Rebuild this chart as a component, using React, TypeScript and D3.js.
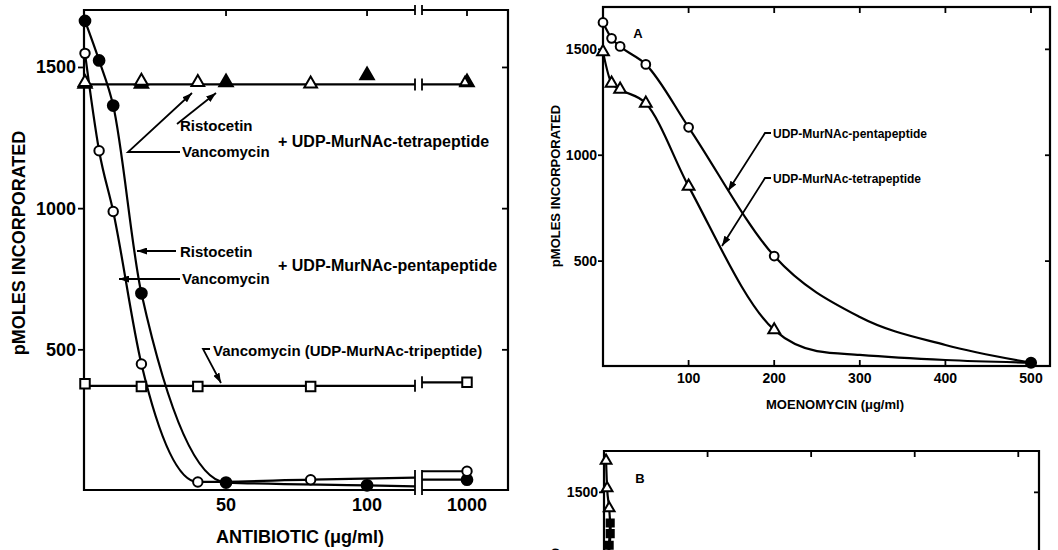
import * as d3 from 'd3';
import React, { useEffect, useRef } from 'react';

// left panel: antibiotic (ug/ml) vs pmoles incorporated
const ristoPentaX = [0, 5, 10, 20, 50, 100];
const ristoPentaY = [1665, 1525, 1365, 700, 30, 20];
const vancoPentaX = [0, 5, 10, 20, 40, 80];
const vancoPentaY = [1550, 1205, 990, 450, 32, 40];
const ristoPentaHigh = [40];
const vancoPentaHigh = [70];

const vancoTetraX = [0, 20, 40, 80];
const vancoTetraY = [1440, 1445, 1440, 1435];
const ristoTetraX = [0, 20, 50, 100];
const ristoTetraY = [1435, 1435, 1440, 1465];
const tetraHigh = [1440];

const vancoTriX = [0, 20, 40, 80];
const vancoTriY = [380, 370, 370, 370];
const vancoTriHigh = [385];

const highDose = [1000];
const leftYTicks = [500, 1000, 1500];
const leftXTicks = [50, 100];

// panel A: moenomycin
const moenoX = [0, 10, 20, 50, 100, 200, 500];
const pentaA = [1627, 1552, 1514, 1429, 1132, 524, 20];
const tetraA = [1488, 1340, 1311, 1245, 853, 175, 20];
const pentaCurveX = [300, 400];
const pentaCurveY = [236, 104];
const tetraCurveX = [250, 300, 400];
const tetraCurveY = [75, 57, 33];
const aXTicks = [100, 200, 300, 400, 500];
const aYTicks = [500, 1000, 1500];

// panel B (cut off at the bottom of the picture)
const bOpenX = [0.2, 0.3, 0.5];
const bOpenY = [1650, 1520, 1425];
const bFilledX = [0.6, 0.6, 0.5, 0.4];
const bFilledY = [1355, 1305, 1250, 1150];
const bXTicks = [10, 20, 30, 40];
const bYTicks = [1500];

const FONT = 'Liberation Sans, Arial, sans-serif';

const App = () => {
  const ref = useRef<SVGSVGElement>(null);

  useEffect(() => {
    const svg = d3.select(ref.current);
    svg.selectAll('*').remove();

    svg.append('rect').attr('width', 1058).attr('height', 550).attr('fill', '#fff');

    svg.append('defs').append('marker')
      .attr('id', 'arr')
      .attr('markerUnits', 'userSpaceOnUse')
      .attr('markerWidth', 10).attr('markerHeight', 7)
      .attr('refX', 10).attr('refY', 3.5)
      .attr('orient', 'auto')
      .append('path').attr('d', 'M0,0 L10,3.5 L0,7 z').attr('fill', '#000');

    const ink = '#000';
    const lw = 2.2;

    const text = (x: number, y: number, s: string, size: number, anchor = 'start', rot = 0) => {
      const t = svg.append('text')
        .attr('x', x).attr('y', y)
        .attr('font-family', FONT).attr('font-weight', 'bold')
        .attr('font-size', size).attr('text-anchor', anchor)
        .attr('fill', ink).text(s);
      if (rot) t.attr('transform', `rotate(${rot},${x},${y})`);
      return t;
    };
    const seg = (pts: [number, number][], arrow = false) => {
      const p = svg.append('path')
        .attr('d', d3.line()(pts))
        .attr('fill', 'none').attr('stroke', ink).attr('stroke-width', 1.8);
      if (arrow) p.attr('marker-end', 'url(#arr)');
    };
    const sym = (type: d3.SymbolType, size: number, filled: boolean, x: number, y: number) => {
      svg.append('path')
        .attr('d', d3.symbol().type(type).size(size)())
        .attr('transform', `translate(${x},${y})`)
        .attr('fill', filled ? ink : '#fff')
        .attr('stroke', ink).attr('stroke-width', 2);
    };
    const curve = (pts: [number, number][]) => {
      svg.append('path')
        .attr('d', d3.line().curve(d3.curveMonotoneX)(pts))
        .attr('fill', 'none').attr('stroke', ink).attr('stroke-width', lw);
    };

    // ---------------- left panel ----------------
    const L = 84, R = 508, T = 10, B = 490, brkA = 415, brkB = 422;
    const xLo = d3.scaleLinear().domain([0, 117]).range([85, brkA]);
    const xHi = d3.scaleLinear().domain([900, 1100]).range([424, 510]);
    const yL = d3.scaleLinear().domain([0, 1700]).range([491, 11]);

    const frame = svg.append('g').attr('fill', 'none').attr('stroke', ink).attr('stroke-width', lw);
    frame.append('path').attr('d', `M${brkA},${T} H${L} V${B} H${brkA}`);
    frame.append('path').attr('d', `M${brkB},${T} H${R} V${B} H${brkB}`);
    // break bars
    [brkA, brkB].forEach(bx => {
      seg([[bx, T - 5], [bx, T + 5]]);
      seg([[bx, yL(0) - 21], [bx, B + 5]]);
    });

    leftYTicks.forEach(v => {
      seg([[L - 6, yL(v)], [L, yL(v)]]);
      seg([[R - 6, yL(v)], [R, yL(v)]]);
      text(L - 8, yL(v) + 6, String(v), 18, 'end');
    });
    leftXTicks.forEach(v => {
      seg([[xLo(v), T], [xLo(v), T + 6]]);
      text(xLo(v), B + 21, String(v), 18, 'middle');
    });
    highDose.forEach(v => {
      seg([[xHi(v), T], [xHi(v), T + 6]]);
      text(xHi(v), B + 21, String(v), 18, 'middle');
    });
    text(300, 543, 'ANTIBIOTIC (\u03bcg/ml)', 18, 'middle');
    text(25, 243, 'pMOLES INCORPORATED', 18, 'middle', -90);

    // flat lines with break bars
    const flat = (lowY: number[], highY: number[]) => {
      const lv = d3.mean(lowY)!;
      const yv = yL(lv);
      svg.append('path').attr('d', `M${xLo(0)},${yv} H${brkA}`)
        .attr('stroke', ink).attr('stroke-width', lw);
      svg.append('path').attr('d', `M${brkB},${yL(highY[0])} H${xHi(highDose[0])}`)
        .attr('stroke', ink).attr('stroke-width', lw);
      seg([[brkA, yv - 6], [brkA, yv + 6]]);
      seg([[brkB, yL(highY[0]) - 6], [brkB, yL(highY[0]) + 6]]);
    };
    flat(vancoTetraY, tetraHigh);
    flat(vancoTriY, vancoTriHigh);

    // falling curves, extended to the break
    const fall = (xs: number[], ys: number[], high: number[]) => {
      const n = xs.length;
      const slope = (ys[n - 1] - ys[n - 2]) / (xs[n - 1] - xs[n - 2]);
      const endV = ys[n - 1] + slope * (117 - xs[n - 1]);
      const pts: [number, number][] = xs.map((x, i) => [xLo(x), yL(ys[i])]);
      pts.push([brkA, yL(endV)]);
      curve(pts);
      svg.append('path').attr('d', `M${brkB},${yL(high[0])} H${xHi(highDose[0])}`)
        .attr('stroke', ink).attr('stroke-width', lw);
    };
    fall(ristoPentaX, ristoPentaY, ristoPentaHigh);
    fall(vancoPentaX, vancoPentaY, vancoPentaHigh);

    // symbols
    vancoTriX.forEach((x, i) => sym(d3.symbolSquare, 90, false, xLo(x), yL(vancoTriY[i])));
    sym(d3.symbolSquare, 90, false, xHi(highDose[0]), yL(vancoTriHigh[0]));
    ristoTetraX.forEach((x, i) => sym(d3.symbolTriangle, 80, true, xLo(x), yL(ristoTetraY[i]) - 2));
    sym(d3.symbolTriangle, 80, true, xHi(highDose[0]), yL(tetraHigh[0]) - 2);
    vancoTetraX.forEach((x, i) => sym(d3.symbolTriangle, 70, false, xLo(x), yL(vancoTetraY[i]) - 2));
    sym(d3.symbolTriangle, 40, false, xHi(highDose[0]) - 2, yL(tetraHigh[0]) - 2);
    ristoPentaX.forEach((x, i) => sym(d3.symbolCircle, 90, true, xLo(x), yL(ristoPentaY[i])));
    sym(d3.symbolCircle, 90, true, xHi(highDose[0]), yL(ristoPentaHigh[0]));
    vancoPentaX.forEach((x, i) => sym(d3.symbolCircle, 70, false, xLo(x), yL(vancoPentaY[i])));
    sym(d3.symbolCircle, 70, false, xHi(highDose[0]), yL(vancoPentaHigh[0]));

    // annotations
    text(180, 131, 'Ristocetin', 15);
    seg([[177, 124], [216, 93]], true);
    text(182, 157, 'Vancomycin', 15);
    seg([[180, 152], [128, 152], [192, 93]], true);
    text(278, 147, '+ UDP-MurNAc-tetrapeptide', 16);

    text(180, 257, 'Ristocetin', 15);
    seg([[176, 251], [137, 251]], true);
    text(182, 284, 'Vancomycin', 15);
    seg([[180, 279], [119, 279]], true);
    text(278, 271, '+ UDP-MurNAc-pentapeptide', 16);

    text(213, 356, 'Vancomycin (UDP-MurNAc-tripeptide)', 15);
    seg([[210, 349], [203, 349], [221, 383]], true);

    // ---------------- panel A ----------------
    const AL = 603, AR = 1050, AT = 7, AB = 366;
    const xA = d3.scaleLinear().domain([0, 500]).range([603, 1031]);
    const yA = d3.scaleLinear().domain([0, 1700]).range([367, 7]);
    svg.append('rect').attr('x', AL).attr('y', AT).attr('width', AR - AL).attr('height', AB - AT)
      .attr('fill', 'none').attr('stroke', ink).attr('stroke-width', lw);
    aYTicks.forEach(v => {
      seg([[AL - 5, yA(v)], [AL, yA(v)]]);
      seg([[AR - 5, yA(v)], [AR, yA(v)]]);
      text(AL - 6, yA(v) + 5, String(v), 14, 'end');
    });
    aXTicks.forEach(v => {
      seg([[xA(v), AT], [xA(v), AT + 6]]);
      seg([[xA(v), AB], [xA(v), AB - 6]]);
      text(xA(v), AB + 17, String(v), 14, 'middle');
    });
    text(835, 409, 'MOENOMYCIN (\u03bcg/ml)', 13, 'middle');
    text(560, 186, 'pMOLES INCORPORATED', 13, 'middle', -90);
    text(638, 38, 'A', 13, 'middle');

    const merge = (xs: number[], ys: number[], cx: number[], cy: number[]) =>
      xs.map((x, i) => [x, ys[i]] as [number, number])
        .concat(cx.map((x, i) => [x, cy[i]] as [number, number]))
        .sort((a, b) => a[0] - b[0])
        .map(d => [xA(d[0]), yA(d[1])] as [number, number]);
    curve(merge(moenoX, pentaA, pentaCurveX, pentaCurveY));
    curve(merge(moenoX, tetraA, tetraCurveX, tetraCurveY));
    moenoX.forEach((x, i) => {
      if (x === 500) return;
      sym(d3.symbolCircle, 60, false, xA(x), yA(pentaA[i]));
      sym(d3.symbolTriangle, 60, false, xA(x), yA(tetraA[i]));
    });
    sym(d3.symbolCircle, 80, true, xA(500), yA(pentaA[pentaA.length - 1]));

    text(773, 138, 'UDP-MurNAc-pentapeptide', 12);
    seg([[771, 133], [765, 133], [728, 191]], true);
    text(773, 183, 'UDP-MurNAc-tetrapeptide', 12);
    seg([[771, 178], [765, 178], [722, 246]], true);

    // ---------------- panel B ----------------
    const BL = 604, BR = 1039, BT = 451;
    const xB = d3.scaleLinear().domain([0, 42]).range([BL, BR]);
    const yB = d3.scaleLinear().domain([0, 1700]).range([810, 450]);
    svg.append('path').attr('d', `M${BL},600 V${BT} H${BR} V600`)
      .attr('fill', 'none').attr('stroke', ink).attr('stroke-width', lw);
    bXTicks.forEach(v => seg([[xB(v), BT], [xB(v), BT + 6]]));
    bYTicks.forEach(v => {
      seg([[BL - 5, yB(v)], [BL, yB(v)]]);
      seg([[BR - 5, yB(v)], [BR, yB(v)]]);
      text(BL - 6, yB(v) + 5, String(v), 14, 'end');
    });
    text(640, 483, 'B', 13, 'middle');
    text(560, 629, 'pMOLES INCORPORATED', 13, 'middle', -90);
    curve(bOpenX.map((x, i) => [xB(x), yB(bOpenY[i])] as [number, number]).concat([[xB(bFilledX[0]), yB(bFilledY[0])]]));
    svg.append('path')
      .attr('d', d3.line()(bFilledX.map((x, i) => [xB(x), yB(bFilledY[i])] as [number, number]).concat([[xB(bFilledX[3]), 560]])))
      .attr('fill', 'none').attr('stroke', ink).attr('stroke-width', 3);
    bOpenX.forEach((x, i) => sym(d3.symbolTriangle, 50, false, xB(x), yB(bOpenY[i])));
    bFilledX.forEach((x, i) => sym(d3.symbolSquare, 50, true, xB(x), yB(bFilledY[i])));
  }, []);

  return (
    <svg ref={ref} width={1058} height={550}
      style={{ position: 'absolute', left: 0, top: 0, background: '#fff' }} />
  );
};

export default App;
